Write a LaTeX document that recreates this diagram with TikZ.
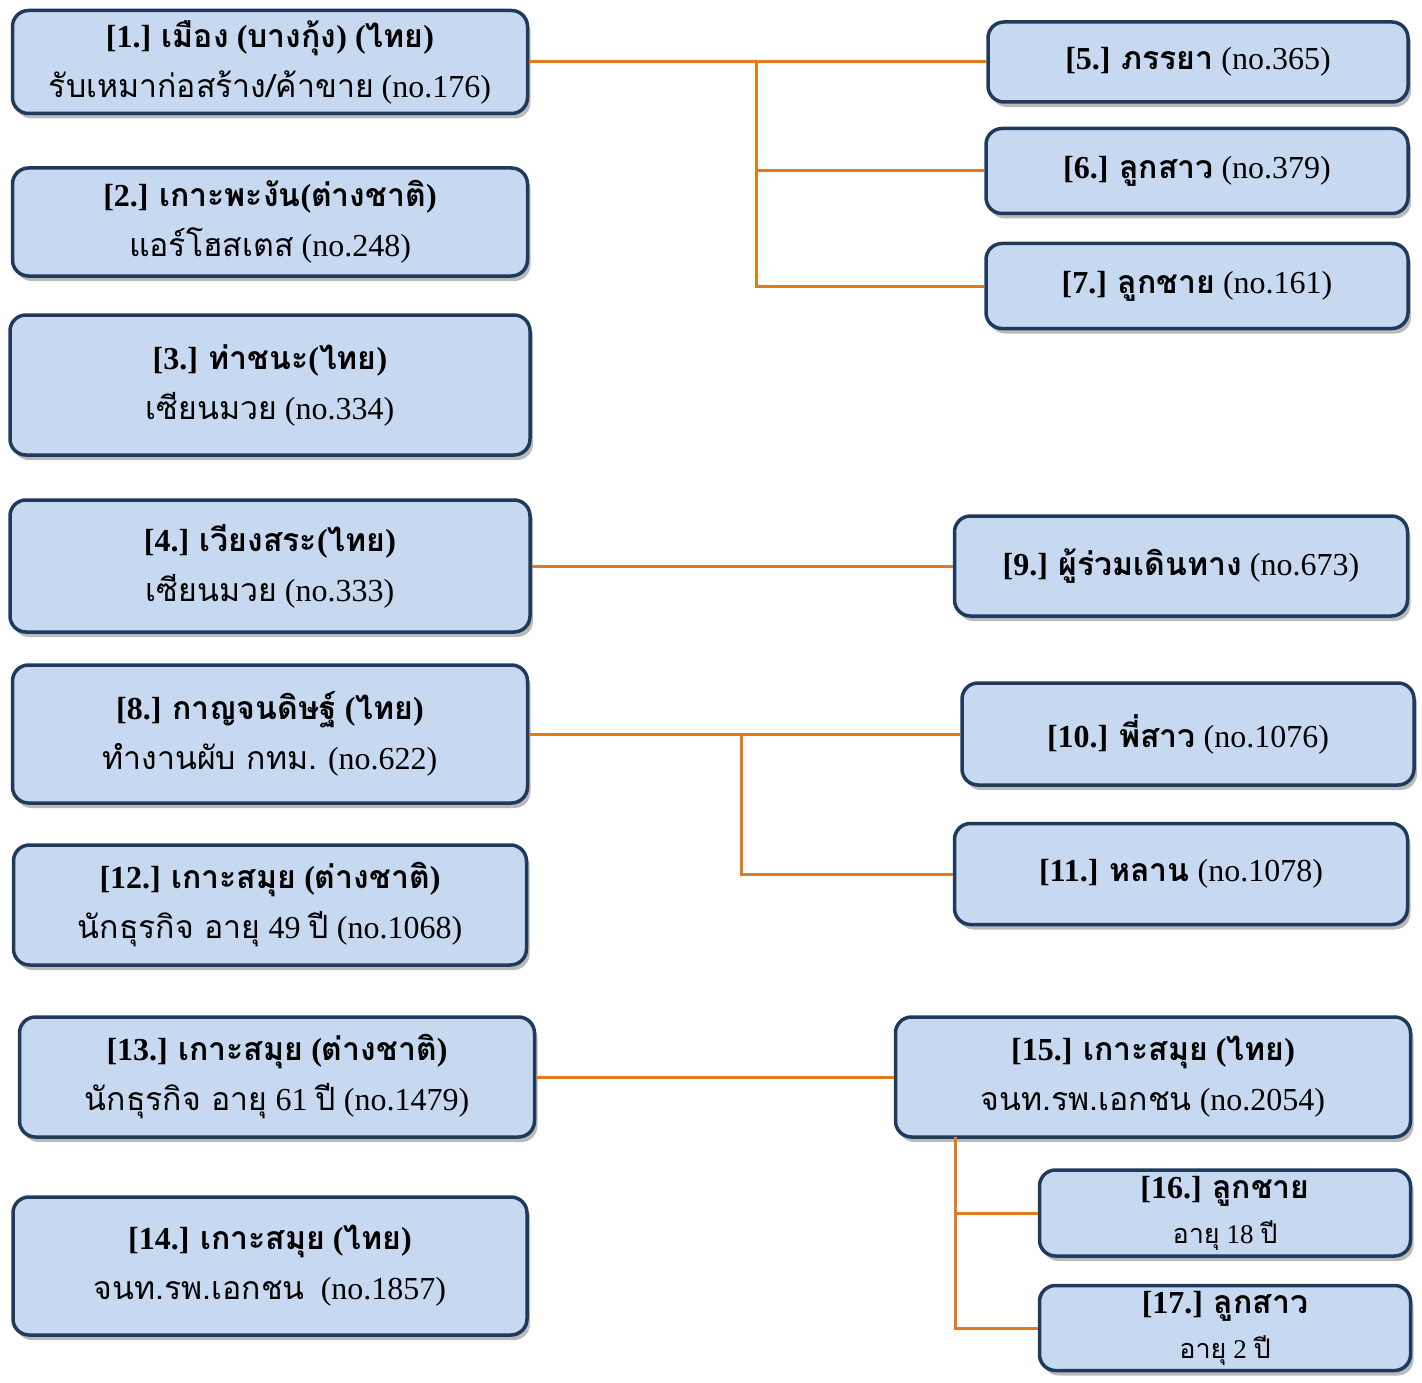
\documentclass[tikz,border=0pt]{standalone}
\usepackage{fontspec}
\setmainfont{Liberation Serif}
\newfontfamily\thaifont[Script=Thai]{Loma}
\newcommand{\thai}[1]{{\thaifont #1}}
\usetikzlibrary{positioning,shadows}
\definecolor{boxfill}{HTML}{C6D9F1}
\definecolor{boxline}{HTML}{1F3A5C}
\definecolor{linkline}{HTML}{E47A1E}
\begin{document}
\begin{tikzpicture}[x=1pt, y=-1pt,
    person/.style={rectangle, rounded corners=16pt, draw=boxline, line width=3.5pt,
      fill=boxfill, align=center, inner sep=0pt,
      font=\fontsize{32pt}{50pt}\selectfont,
      drop shadow={shadow xshift=3pt, shadow yshift=-5pt, opacity=0.45, fill=black!60}},
    link/.style={draw=linkline, line width=3pt}]
    \useasboundingbox (0,0) rectangle (1422,1383);

    \node (n1) [person, minimum width=515pt, minimum height=103pt] at (270,62)
      {\textbf{[1.] \thai{เมือง} (\thai{บางกุ้ง}) (\thai{ไทย})}\\ \thai{รับเหมาก่อสร้าง/ค้าขาย} (no.176)};
    \node (n2) [person, minimum width=515pt, minimum height=108pt] at (270,222)
      {\textbf{[2.] \thai{เกาะพะงัน}(\thai{ต่างชาติ})}\\ \thai{แอร์โฮสเตส} (no.248)};
    \node (n3) [person, minimum width=520pt, minimum height=140pt] at (270,385)
      {\textbf{[3.] \thai{ท่าชนะ}(\thai{ไทย})}\\ \thai{เซียนมวย} (no.334)};
    \node (n4) [person, minimum width=520pt, minimum height=132pt] at (270,566)
      {\textbf{[4.] \thai{เวียงสระ}(\thai{ไทย})}\\ \thai{เซียนมวย} (no.333)};
    \node (n8) [person, minimum width=515pt, minimum height=138pt] at (270,734)
      {\textbf{[8.] \thai{กาญจนดิษฐ์} (\thai{ไทย})}\\ \thai{ทำงานผับ กทม.} (no.622)};
    \node (n12) [person, minimum width=513pt, minimum height=120pt] at (270,905)
      {\textbf{[12.] \thai{เกาะสมุย} (\thai{ต่างชาติ})}\\ \thai{นักธุรกิจ อายุ} 49 \thai{ปี} (no.1068)};
    \node (n13) [person, minimum width=515pt, minimum height=120pt] at (277,1077)
      {\textbf{[13.] \thai{เกาะสมุย} (\thai{ต่างชาติ})}\\ \thai{นักธุรกิจ อายุ} 61 \thai{ปี} (no.1479)};
    \node (n14) [person, minimum width=514pt, minimum height=138pt] at (270,1266)
      {\textbf{[14.] \thai{เกาะสมุย} (\thai{ไทย})}\\ \thai{จนท.รพ.เอกชน}\ \ (no.1857)};

    \node (n5) [person, minimum width=420pt, minimum height=80pt] at (1198,62)
      {\textbf{[5.] \thai{ภรรยา}} (no.365)};
    \node (n6) [person, minimum width=422pt, minimum height=85pt] at (1197,171)
      {\textbf{[6.] \thai{ลูกสาว}} (no.379)};
    \node (n7) [person, minimum width=422pt, minimum height=85pt] at (1197,286)
      {\textbf{[7.] \thai{ลูกชาย}} (no.161)};
    \node (n9) [person, minimum width=453pt, minimum height=100pt] at (1181,566)
      {\textbf{[9.] \thai{ผู้ร่วมเดินทาง}} (no.673)};
    \node (n10) [person, minimum width=452pt, minimum height=102pt] at (1188,734)
      {\textbf{[10.] \thai{พี่สาว}} (no.1076)};
    \node (n11) [person, minimum width=453pt, minimum height=101pt] at (1181,874)
      {\textbf{[11.] \thai{หลาน}} (no.1078)};
    \node (n15) [person, minimum width=515pt, minimum height=120pt] at (1153,1077)
      {\textbf{[15.] \thai{เกาะสมุย} (\thai{ไทย})}\\ \thai{จนท.รพ.เอกชน} (no.2054)};
    \node (n16) [person, minimum width=371pt, minimum height=86pt, font=\fontsize{32pt}{45pt}\selectfont] at (1225,1213)
      {\textbf{[16.] \thai{ลูกชาย}}\\ {\fontsize{27pt}{30pt}\selectfont\thai{อายุ} 18 \thai{ปี}}};
    \node (n17) [person, minimum width=371pt, minimum height=85pt, font=\fontsize{32pt}{45pt}\selectfont] at (1225,1328)
      {\textbf{[17.] \thai{ลูกสาว}}\\ {\fontsize{27pt}{30pt}\selectfont\thai{อายุ} 2 \thai{ปี}}};

    \coordinate (j1) at (756,62);
    \coordinate (j8) at (741,734);
    \coordinate (j15) at (955,1137);

    \draw [link] (n1.east) -- (n5.west);
    \draw [link] (j1) |- (n6.west);
    \draw [link] (j1) |- (n7.west);
    \draw [link] (n4.east) -- (n9.west);
    \draw [link] (n8.east) -- (n10.west);
    \draw [link] (j8) |- (n11.west);
    \draw [link] (n13.east) -- (n15.west);
    \draw [link] (j15) |- (n16.west);
    \draw [link] (j15) |- (n17.west);
\end{tikzpicture}
\end{document}
